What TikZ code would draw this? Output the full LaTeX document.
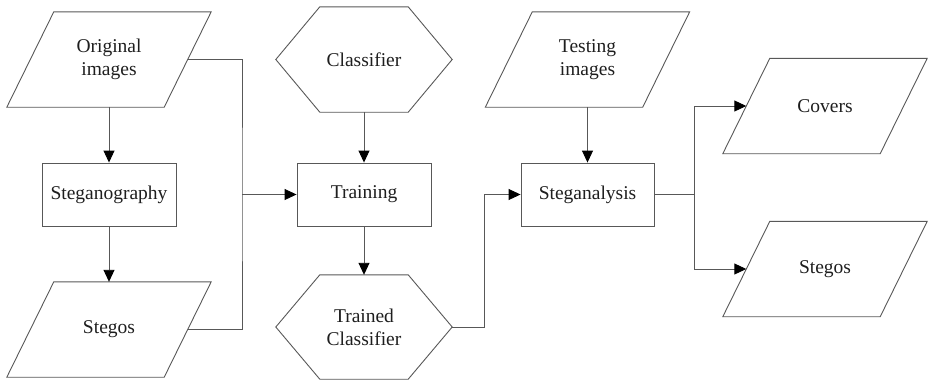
\documentclass[tikz,border=0pt]{standalone}
\usepackage{fontspec}
\setmainfont{Liberation Serif}
\usetikzlibrary{arrows.meta,calc}
\definecolor{ln}{RGB}{88,88,88}
\definecolor{tx}{RGB}{30,30,30}
\begin{document}
\begin{tikzpicture}[x=1pt,y=-1pt,
  lbl/.style={inner sep=0pt, align=center, text=tx,
    font=\fontsize{19.5}{23.3}\selectfont},
  parabox/.style={lbl, minimum width=204pt, minimum height=95pt},
  hexbox/.style={lbl, minimum width=176pt, minimum height=105pt},
  rectbox/.style={lbl, draw=ln, line width=0.9pt, minimum width=134pt, minimum height=63pt},
  outl/.style={draw=ln, line width=0.9pt, line join=miter},
  conn/.style={draw=ln, line width=0.9pt},
  arr/.style={conn, -{Triangle[length=12pt,width=11pt,color=black,fill=black]}}
]
\useasboundingbox (0,0) rectangle (928,381);

% nodes
\node[parabox] (orig) at (109,59.5) {Original\\images};
\node[rectbox] (steg) at (109,194.5) {Steganography};
\node[parabox] (stegL) at (109,329.5) {Stegos};
\node[hexbox] (cls) at (364,59.5) {Classifier};
\node[rectbox] (train) at (364,194.5) {Training};
\node[hexbox, minimum height=104pt] (tcls) at (364,327) {Trained\\Classifier};
\node[parabox] (test) at (587.5,59.5) {Testing\\images};
\node[rectbox, minimum width=133pt] (sa) at (587.5,194.5) {Steganalysis};
\node[parabox] (covers) at (825,106) {Covers};
\node[parabox] (stegR) at (825,269) {Stegos};

% outlines
\foreach \n in {orig,stegL,test,covers,stegR}
  \draw[outl] ([xshift=47pt]\n.north west) -- (\n.north east)
     -- ([xshift=-47pt]\n.south east) -- (\n.south west) -- cycle;
\foreach \n in {cls,tcls}
  \draw[outl] (\n.west) -- ([xshift=44pt]\n.north west) -- ([xshift=-44pt]\n.north east)
     -- (\n.east) -- ([xshift=-44pt]\n.south east) -- ([xshift=44pt]\n.south west) -- cycle;

% junction coordinates
\coordinate (j1) at (242,194.5);
\coordinate (j2) at (484,194.5);
\coordinate (j3) at (694,194.5);

% connectors
\draw[arr] (orig.south) -- (steg.north);
\draw[arr] (steg.south) -- (stegL.north);
\draw[conn] ([xshift=-23.5pt]orig.east) -| (j1) |- ([xshift=-23.5pt]stegL.east);
\draw[arr] (j1) -- (train.west);
\draw[arr] (cls.south) -- (train.north);
\draw[arr] (train.south) -- (tcls.north);
\draw[arr] (tcls.east) -| (j2) -- (sa.west);
\draw[arr] (test.south) -- (sa.north);
\draw[conn] (sa.east) -- (j3);
\draw[arr] (j3) |- ([xshift=23.5pt]covers.west);
\draw[arr] (j3) |- ([xshift=23.5pt]stegR.west);
\end{tikzpicture}
\end{document}
